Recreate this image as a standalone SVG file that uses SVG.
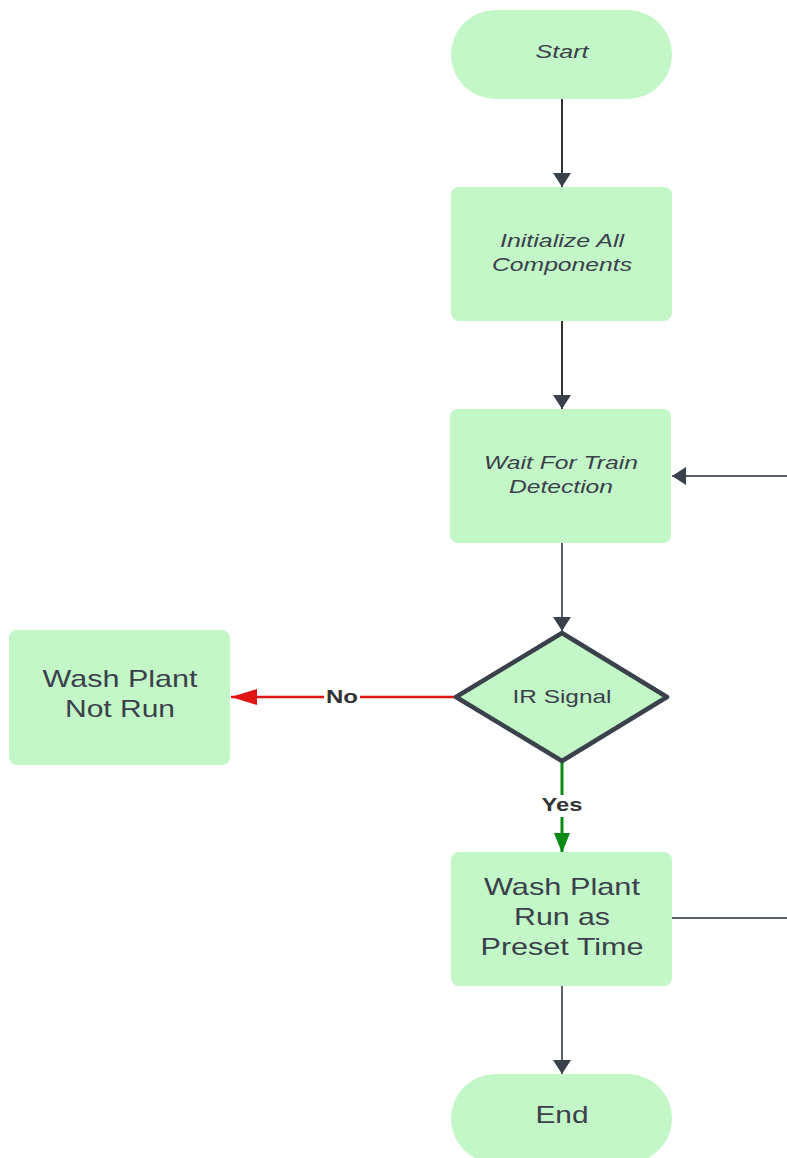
<svg xmlns="http://www.w3.org/2000/svg" width="787" height="1158" viewBox="0 0 787 1158">
<style>
.n{fill:#c3f7c8;}
.t{font-family:"Liberation Sans",Arial,sans-serif;fill:#3a414a;text-anchor:middle;}
.i{font-style:italic;font-size:19px;}
.b{font-size:24px;}
.c{fill:none;stroke:#5a616b;stroke-width:2;}
.lbl{font-family:"Liberation Sans",Arial,sans-serif;font-weight:bold;font-size:18px;fill:#333;text-anchor:middle;}
</style>
<defs>
<marker id="ah" markerWidth="14" markerHeight="18" refX="14" refY="9" orient="auto" markerUnits="userSpaceOnUse" viewBox="0 0 14 18"><path d="M0,0 L14,9 L0,18 Z" fill="#3a414a"/></marker>
<marker id="ahr" markerWidth="26" markerHeight="16" refX="26" refY="8" orient="auto" markerUnits="userSpaceOnUse" viewBox="0 0 26 16"><path d="M0,0 L26,8 L0,16 Z" fill="#e01414"/></marker>
<marker id="ahg" markerWidth="20" markerHeight="16" refX="20" refY="8" orient="auto" markerUnits="userSpaceOnUse" viewBox="0 0 20 16"><path d="M0,0 L20,8 L0,16 Z" fill="#0a8a14"/></marker>
</defs>
<rect width="787" height="1158" fill="#ffffff"/>
<g id="connectors">
<line class="c" x1="562" y1="99" x2="562" y2="187" marker-end="url(#ah)" style="stroke:#333"/>
<line class="c" x1="562" y1="321" x2="562" y2="409" marker-end="url(#ah)" style="stroke:#333"/>
<line class="c" x1="787" y1="476" x2="672" y2="476" marker-end="url(#ah)"/>
<line class="c" x1="562" y1="543" x2="562" y2="631" marker-end="url(#ah)"/>
<line x1="455" y1="697" x2="231" y2="697" stroke="#e01414" stroke-width="2.5" marker-end="url(#ahr)"/>
<rect x="324" y="686" width="36" height="22" fill="#ffffff"/>
<text class="lbl" x="342" y="703" textLength="32" lengthAdjust="spacingAndGlyphs">No</text>
<line x1="562" y1="762" x2="562" y2="853" stroke="#0a8a14" stroke-width="3" marker-end="url(#ahg)"/>
<rect x="538" y="795" width="48" height="22" fill="#ffffff"/>
<text class="lbl" x="562" y="811" textLength="41" lengthAdjust="spacingAndGlyphs">Yes</text>
<line class="c" x1="672" y1="918" x2="787" y2="918"/>
<line class="c" x1="562" y1="986" x2="562" y2="1074" marker-end="url(#ah)"/>
</g>
<g id="start">
<rect class="n" x="451" y="10" width="221" height="89" rx="44.5"/>
<text class="t i" x="562" y="58" textLength="53" lengthAdjust="spacingAndGlyphs">Start</text>
</g>
<g id="init">
<rect class="n" x="451" y="187" width="221" height="134" rx="8"/>
<text class="t i" x="562" y="247" textLength="124" lengthAdjust="spacingAndGlyphs">Initialize All</text>
<text class="t i" x="562" y="271" textLength="140" lengthAdjust="spacingAndGlyphs">Components</text>
</g>
<g id="wait">
<rect class="n" x="450" y="409" width="221" height="134" rx="8"/>
<text class="t i" x="561" y="469" textLength="154" lengthAdjust="spacingAndGlyphs">Wait For Train</text>
<text class="t i" x="561" y="493" textLength="104" lengthAdjust="spacingAndGlyphs">Detection</text>
</g>
<g id="decision">
<path class="n" d="M562,633 L667,697 L562,761 L456,697 Z" stroke="#3a414a" stroke-width="4.5" stroke-linejoin="round"/>
<text class="t" x="562" y="703" font-size="19" textLength="99" lengthAdjust="spacingAndGlyphs">IR Signal</text>
</g>
<g id="notrun">
<rect class="n" x="9" y="630" width="221" height="135" rx="8"/>
<text class="t b" x="120" y="687" textLength="155" lengthAdjust="spacingAndGlyphs">Wash Plant</text>
<text class="t b" x="120" y="717" textLength="110" lengthAdjust="spacingAndGlyphs">Not Run</text>
</g>
<g id="run">
<rect class="n" x="451" y="852" width="221" height="134" rx="8"/>
<text class="t b" x="562" y="895" textLength="156" lengthAdjust="spacingAndGlyphs">Wash Plant</text>
<text class="t b" x="562" y="925" textLength="96" lengthAdjust="spacingAndGlyphs">Run as</text>
<text class="t b" x="562" y="955" textLength="163" lengthAdjust="spacingAndGlyphs">Preset Time</text>
</g>
<g id="end">
<rect class="n" x="451" y="1074" width="221" height="89" rx="44.5"/>
<text class="t b" x="562" y="1123" textLength="53" lengthAdjust="spacingAndGlyphs">End</text>
</g>
</svg>
